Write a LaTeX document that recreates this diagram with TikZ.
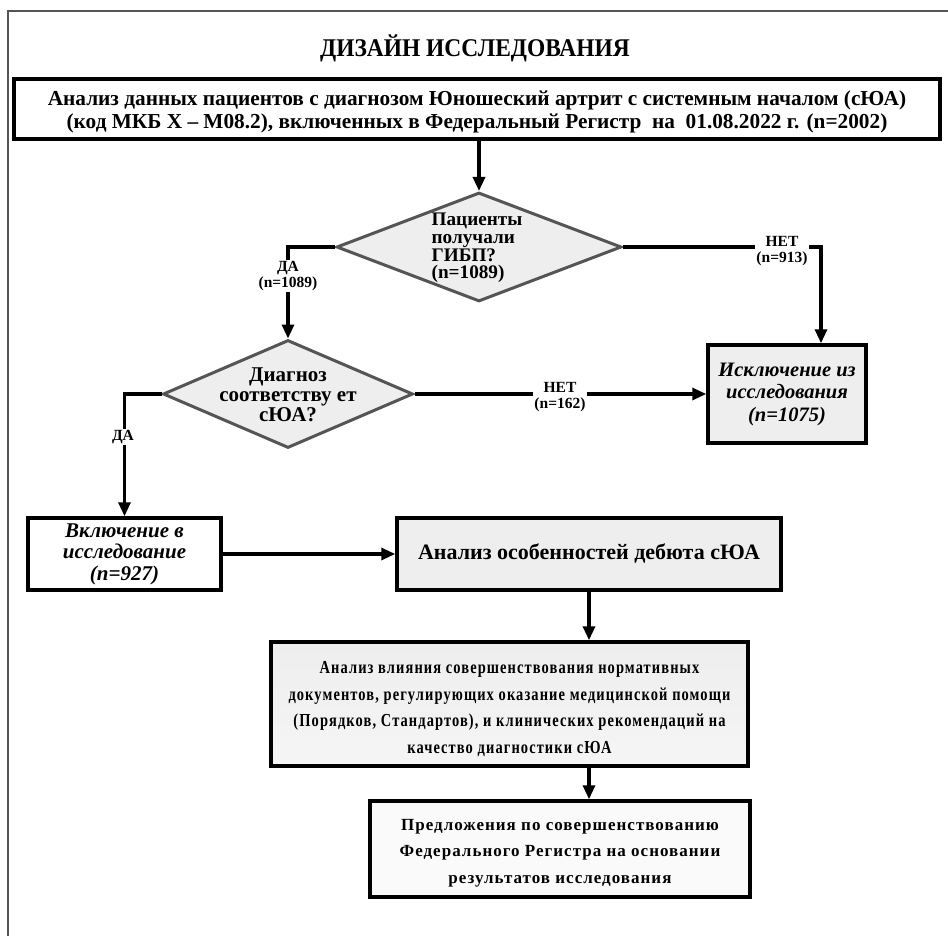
\documentclass[tikz,border=0pt]{standalone}
\usepackage{fontspec}
\setmainfont{Liberation Serif}
\newfontfamily\titlef[FakeStretch=0.92]{Liberation Serif}
\newfontfamily\bigf[FakeStretch=0.79, LetterSpace=6]{Liberation Serif}
\newfontfamily\widef[LetterSpace=6]{Liberation Serif}
\usetikzlibrary{shapes.geometric,arrows.meta,shadows}
\definecolor{boxgray}{HTML}{EEEEEE}
\definecolor{diaedge}{HTML}{555555}
\tikzset{
  box/.style={draw=black, line width=3.5pt, rectangle, inner sep=0pt, align=center,
    drop shadow={shadow xshift=2pt, shadow yshift=-2pt, fill=black!40, opacity=0.5}},
  whitebox/.style={box, fill=white},
  graybox/.style={box, fill=boxgray},
  dia/.style={diamond, draw=diaedge, line width=3pt, fill=boxgray, inner sep=0pt},
  diatext/.style={inner sep=0pt, font=\bfseries},
  conn/.style={line width=3.2pt, draw=black, -{Triangle[length=14pt,width=12pt]}},
  lbl/.style={fill=white, inner sep=1pt, align=center, font=\bfseries\fontsize{15.5}{15.5}\selectfont},
}
\begin{document}
\begin{tikzpicture}[x=1pt, y=-1pt]
\useasboundingbox (0,0) rectangle (948,936);
\fill[white] (0,0) rectangle (948,936);
% frame
\draw[draw=diaedge, line width=1.2pt] (8,936) -- (8,11) -- (948,11);
% title
\node[inner sep=0pt, font=\titlef\bfseries\fontsize{25.5}{30}\selectfont] (title) at (475,48) {ДИЗАЙН ИССЛЕДОВАНИЯ};
% top box
\node[whitebox, minimum width=926, minimum height=60, font=\bfseries\fontsize{21.3}{23}\selectfont] (top) at (477,109)
  {\rule{0pt}{20pt}Анализ данных пациентов с диагнозом Юношеский артрит с системным началом (сЮА)\\
   (код МКБ X – М08.2), включенных в Федеральный Регистр \ на \ 01.08.2022 г. (n=2002)};
% diamond 1
\node[dia, minimum width=285, minimum height=109] (d1) at (479,247) {};
\node[diatext, align=left, font=\bfseries\fontsize{19.2}{17.6}\selectfont] (d1t) at (477,248)
  {Пациенты\\получали\\ГИБП?\\(n=1089)};
% diamond 2
\node[dia, minimum width=250, minimum height=108] (d2) at (288,394) {};
\node[diatext, align=center, font=\bfseries\fontsize{21}{20}\selectfont] (d2t) at (288,395)
  {Диагноз\\соответству ет\\сЮА?};
% exclusion box
\node[graybox, minimum width=158, minimum height=98, font=\bfseries\itshape\fontsize{20.5}{22.5}\selectfont] (excl) at (787,394)
  {Исключение из\\исследования\\(n=1075)};
% inclusion box
\node[whitebox, minimum width=193, minimum height=72, font=\bfseries\itshape\fontsize{21}{21.5}\selectfont] (incl) at (124.5,554)
  {Включение в\\исследование\\(n=927)};
% analysis box
\node[graybox, minimum width=384, minimum height=72, font=\bfseries\fontsize{22}{24}\selectfont] (anal) at (589,554)
  {Анализ особенностей дебюта сЮА};
% big box
\node[box, top color=boxgray, bottom color=white!96!black, minimum width=477, minimum height=124, font=\bigf\bfseries\fontsize{18.3}{26.5}\selectfont] (big) at (509.5,704)
  {\rule{0pt}{22.6pt}Анализ влияния совершенствования нормативных\\
   документов, регулирующих оказание медицинской помощи\\
   (Порядков, Стандартов), и клинических рекомендаций на\\
   качество диагностики сЮА};
% last box
\node[box, fill=white!98!black, minimum width=380, minimum height=96, font=\widef\bfseries\fontsize{17}{26.5}\selectfont] (last) at (560,849)
  {\rule{0pt}{19.6pt}Предложения по совершенствованию\\
   Федерального Регистра на основании\\
   результатов исследования};
% connectors
\draw[conn] (d1.north |- top.south) -- (d1.north);
\draw[conn] (d1.west) -| (d2.north);
\draw[conn] (d1.east) -| ([xshift=34pt]excl.north);
\draw[conn] (d2.west) -| (incl.north);
\draw[conn] (d2.east) -- (excl.west);
\draw[conn] (incl.east) -- (anal.west);
\draw[conn] (anal.south) -- (anal.south |- big.north);
\draw[conn] (big.south -| anal.south) -- (last.north -| anal.south);
% labels
\node[lbl] (l1) at (288,276) {ДА\\(n=1089)};
\node[lbl] (l2) at (782,251) {НЕТ\\(n=913)};
\node[lbl] (l3) at (560,397) {НЕТ\\(n=162)};
\node[lbl] (l4) at (123,437) {ДА};
\end{tikzpicture}
\end{document}
